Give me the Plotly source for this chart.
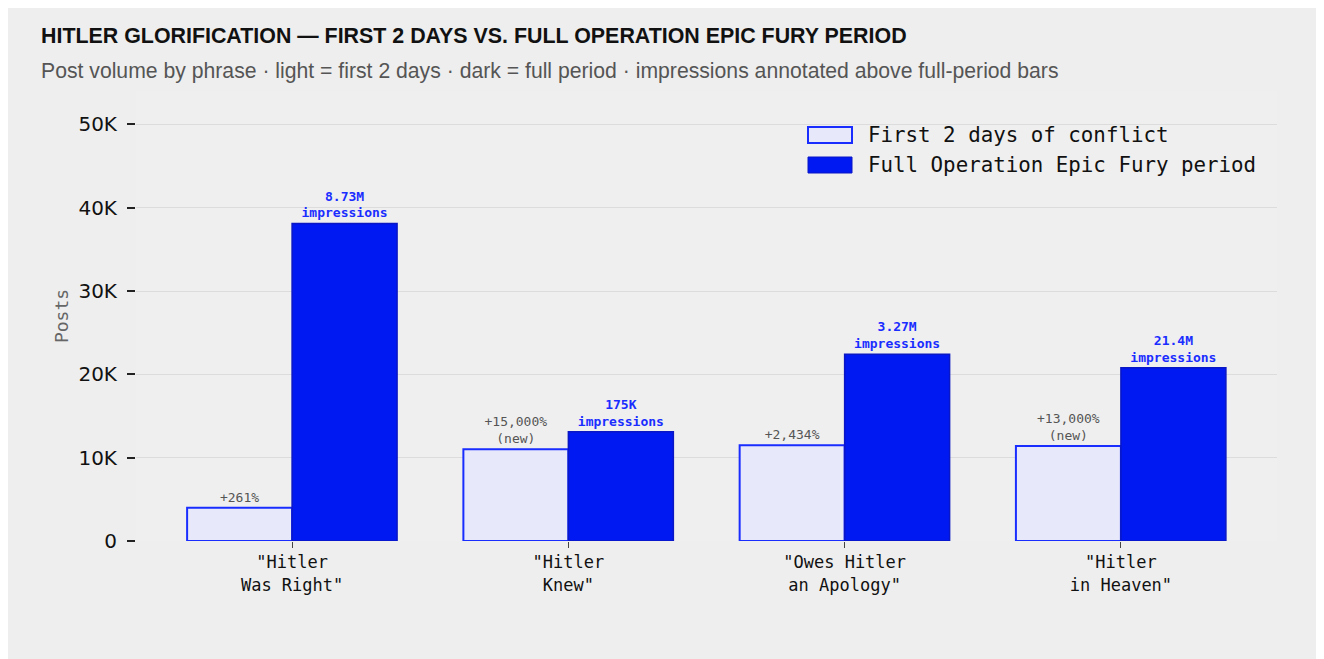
import plotly.graph_objects as go

# data
phrases = ['"Hitler<br>Was Right"', '"Hitler<br>Knew"', '"Owes Hitler<br>an Apology"', '"Hitler<br>in Heaven"']
first_2_days = [4000, 11000, 11500, 11400]
full_period = [38100, 13100, 22400, 20800]
change_labels = ["+261%", "+15,000%<br>(new)", "+2,434%", "+13,000%<br>(new)"]
impression_labels = ["8.73M<br>impressions", "175K<br>impressions", "3.27M<br>impressions", "21.4M<br>impressions"]
y_ticks = [0, 10000, 20000, 30000, 40000, 50000]
y_tick_text = ["0", "10K", "20K", "30K", "40K", "50K"]
legend_names = ["First 2 days of conflict", "Full Operation Epic Fury period"]

MONO = "DejaVu Sans Mono, monospace"
SANS = "Liberation Sans, Arial, sans-serif"
LIGHT_FILL = "#e7e9fb"
LIGHT_EDGE = "#1a2dff"
DARK_FILL = "#0018f2"
DARK_EDGE = "#0a17c4"

W, H = 1320, 655
ML, MT = 128, 83
PLOT_W, PLOT_H = 1141, 450
MR = W - ML - PLOT_W
MB = H - MT - PLOT_H


def px_x(x):
    return (x - ML) / PLOT_W


def px_y(y):
    return (MT + PLOT_H - y) / PLOT_H


fig = go.Figure()
fig.add_bar(
    x=phrases, y=first_2_days, name=legend_names[0],
    marker=dict(color=LIGHT_FILL, line=dict(color=LIGHT_EDGE, width=2)),
    text=change_labels, textposition="outside", constraintext="none", cliponaxis=False,
    textfont=dict(family=MONO, size=13, color="#555555"),
)
fig.add_bar(
    x=phrases, y=full_period, name=legend_names[1],
    marker=dict(color=DARK_FILL, line=dict(color=DARK_EDGE, width=1.5)),
    text=["<b>%s</b>" % t for t in impression_labels], textposition="outside",
    constraintext="none", cliponaxis=False,
    textfont=dict(family=MONO, size=13, color=LIGHT_EDGE),
)

# hand-drawn legend (wide swatches like the reference)
swatches = [(127, 143, LIGHT_FILL, LIGHT_EDGE, 2), (157, 173, DARK_FILL, DARK_EDGE, 1)]
for (y0, y1, fill, edge, lw), name in zip(swatches, legend_names):
    fig.add_shape(type="rect", xref="paper", yref="paper",
                  x0=px_x(800), x1=px_x(844), y0=px_y(y1 - 8), y1=px_y(y0 - 8),
                  fillcolor=fill, line=dict(color=edge, width=lw))
    fig.add_annotation(text=name, xref="paper", yref="paper", x=px_x(858), y=px_y((y0 + y1) / 2 - 8),
                       xanchor="left", yanchor="middle", showarrow=False,
                       font=dict(family=MONO, size=20.8, color="#111111"))

fig.add_annotation(text="<b>HITLER GLORIFICATION — FIRST 2 DAYS VS. FULL OPERATION EPIC FURY PERIOD</b>",
                   xref="paper", yref="paper", x=px_x(31), y=px_y(28), xanchor="left", yanchor="middle",
                   showarrow=False, font=dict(family=SANS, size=21.4, color="#111111"))
fig.add_annotation(text="Post volume by phrase · light = first 2 days · dark = full period · impressions annotated above full-period bars",
                   xref="paper", yref="paper", x=px_x(31), y=px_y(63), xanchor="left", yanchor="middle",
                   showarrow=False, font=dict(family=SANS, size=21.2, color="#555555"))

fig.update_layout(
    width=W, height=H,
    margin=dict(l=ML, r=MR, t=MT, b=MB),
    paper_bgcolor="#eeeeee", plot_bgcolor="#efefef",
    barmode="group", bargap=0.24, bargroupgap=0,
    showlegend=False,
    xaxis=dict(range=[-0.565, 3.565], showgrid=False, zeroline=False, showline=False,
               ticks="outside", ticklen=6, tickwidth=1, tickcolor="#444444",
               tickfont=dict(family=MONO, size=17, color="#111111")),
    yaxis=dict(range=[0, 54000], tickvals=y_ticks, ticktext=y_tick_text,
               showgrid=True, gridcolor="#dcdcdc", gridwidth=1, zeroline=False, showline=False,
               ticks="outside", ticklen=8, tickwidth=2, tickcolor="#222222", ticklabelstandoff=6,
               tickfont=dict(family="DejaVu Sans, sans-serif", size=20, color="#111111"),
               title=dict(text="Posts", standoff=5, font=dict(family=MONO, size=18, color="#666666"))),
)

fig.write_html("out.html")
